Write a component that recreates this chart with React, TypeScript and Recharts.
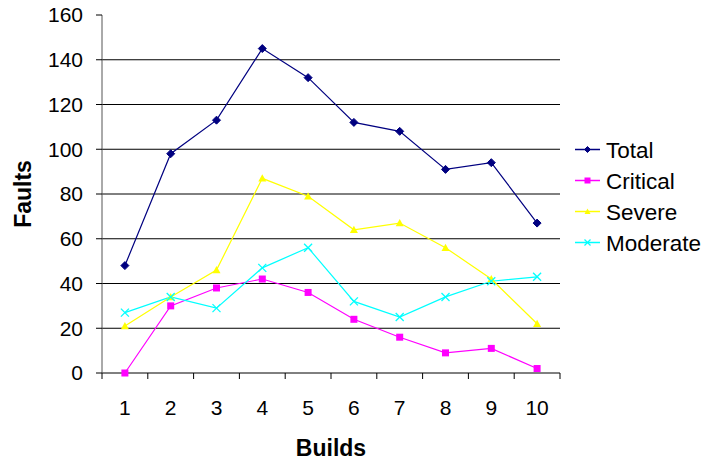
import React from "react";
import {
  CartesianGrid,
  Legend,
  Line,
  LineChart,
  XAxis,
  YAxis,
} from "recharts";

// Fault counts per build
const builds = [1, 2, 3, 4, 5, 6, 7, 8, 9, 10];
const total = [48, 98, 113, 145, 132, 112, 108, 91, 94, 67];
const critical = [0, 30, 38, 42, 36, 24, 16, 9, 11, 2];
const severe = [21, 34, 46, 87, 79, 64, 67, 56, 42, 22];
const moderate = [27, 34, 29, 47, 56, 32, 25, 34, 41, 43];
const yTicks = [0, 20, 40, 60, 80, 100, 120, 140, 160];
const gridValues = [20, 40, 60, 80, 100, 120, 140];

const data = builds.map((b, i) => ({
  build: b,
  total: total[i],
  critical: critical[i],
  severe: severe[i],
  moderate: moderate[i],
}));

const series = [
  { key: "total", name: "Total", color: "#000080", shape: "diamond" },
  { key: "critical", name: "Critical", color: "#FF00FF", shape: "square" },
  { key: "severe", name: "Severe", color: "#FFFF00", shape: "triangle" },
  { key: "moderate", name: "Moderate", color: "#00FFFF", shape: "cross" },
];

const FONT = "Arial, 'Liberation Sans', sans-serif";
const W = 706;
const H = 461;
const PLOT_W = 458;
const HALF_BAND = PLOT_W / builds.length / 2;

function Marker({ shape, cx, cy, color, s }: any) {
  if (shape === "diamond") {
    return (
      <polygon
        points={`${cx},${cy - s} ${cx + s},${cy} ${cx},${cy + s} ${cx - s},${cy}`}
        fill={color}
        stroke={color}
      />
    );
  }
  if (shape === "square") {
    return <rect x={cx - s} y={cy - s} width={s * 2} height={s * 2} fill={color} />;
  }
  if (shape === "triangle") {
    return (
      <polygon
        points={`${cx},${cy - s} ${cx + s},${cy + s * 0.8} ${cx - s},${cy + s * 0.8}`}
        fill={color}
      />
    );
  }
  return (
    <g stroke={color} strokeWidth={1.3}>
      <line x1={cx - s} y1={cy - s} x2={cx + s} y2={cy + s} />
      <line x1={cx - s} y1={cy + s} x2={cx + s} y2={cy - s} />
    </g>
  );
}

function BuildTick(props: any) {
  const { x, y, payload, index } = props;
  const last = index === builds.length - 1;
  return (
    <g>
      <line x1={x - HALF_BAND} y1={y - 6} x2={x - HALF_BAND} y2={y} stroke="#000" />
      {last && <line x1={x + HALF_BAND} y1={y - 6} x2={x + HALF_BAND} y2={y} stroke="#000" />}
      <text x={x} y={y + 36} textAnchor="middle" fontSize={21} fontFamily={FONT} fill="#000">
        {payload.value}
      </text>
    </g>
  );
}

function LegendBox() {
  return (
    <svg width={131} height={124}>
      {series.map((s, i) => {
        const cy = 15.5 + i * 31;
        return (
          <g key={s.key}>
            <line x1={0} y1={cy} x2={25} y2={cy} stroke={s.color} strokeWidth={1.5} />
            <Marker shape={s.shape} cx={12.5} cy={cy} color={s.color} s={3} />
            <text x={31} y={cy + 8} fontSize={22.5} fontFamily={FONT} fill="#000">
              {s.name}
            </text>
          </g>
        );
      })}
    </svg>
  );
}

export default function App() {
  return (
    <div style={{ position: "absolute", top: 0, left: 0 }}>
      <LineChart
        width={W}
        height={H}
        data={data}
        margin={{ top: 15, right: 146, bottom: 0, left: 0 }}
        style={{ fontFamily: FONT }}
      >
        <CartesianGrid
          horizontal
          vertical={false}
          stroke="#000"
          horizontalValues={gridValues}
        />
        <XAxis
          dataKey="build"
          type="number"
          domain={[0.5, 10.5]}
          ticks={builds}
          height={88}
          tickSize={6}
          tickMargin={0}
          tickLine={false}
          axisLine={{ stroke: "#000" }}
          tick={<BuildTick />}
          interval={0}
          label={{
            content: ({ viewBox }: any) => (
              <text
                x={viewBox.x + viewBox.width / 2}
                y={456}
                textAnchor="middle"
                fontSize={23}
                fontWeight="bold"
                fontFamily={FONT}
                fill="#000"
              >
                Builds
              </text>
            ),
          }}
        />
        <YAxis
          width={102}
          domain={[0, 160]}
          ticks={yTicks}
          interval={0}
          tickSize={6}
          tickMargin={13}
          axisLine={{ stroke: "#555" }}
          tickLine={{ stroke: "#000" }}
          tick={{ fontSize: 21, fill: "#000", fontFamily: FONT }}
          label={{
            content: ({ viewBox }: any) => {
              const cy = viewBox.y + viewBox.height / 2;
              return (
                <text
                  x={31}
                  y={cy}
                  transform={`rotate(-90, 31, ${cy})`}
                  textAnchor="middle"
                  fontSize={23}
                  fontWeight="bold"
                  fontFamily={FONT}
                  fill="#000"
                >
                  Faults
                </text>
              );
            },
          }}
        />
        <Legend
          layout="vertical"
          align="center"
          verticalAlign="middle"
          wrapperStyle={{ left: 575, top: 134, width: 131 }}
          content={() => <LegendBox />}
        />
        {series.map((s) => (
          <Line
            key={s.key}
            dataKey={s.key}
            name={s.name}
            stroke={s.color}
            strokeWidth={1.2}
            isAnimationActive={false}
            dot={(p: any) => (
              <Marker
                key={`${s.key}-${p.index}`}
                shape={s.shape}
                cx={p.cx}
                cy={p.cy}
                color={s.color}
                s={s.shape === "square" ? 3.5 : 4}
              />
            )}
            activeDot={false}
          />
        ))}
      </LineChart>
    </div>
  );
}
